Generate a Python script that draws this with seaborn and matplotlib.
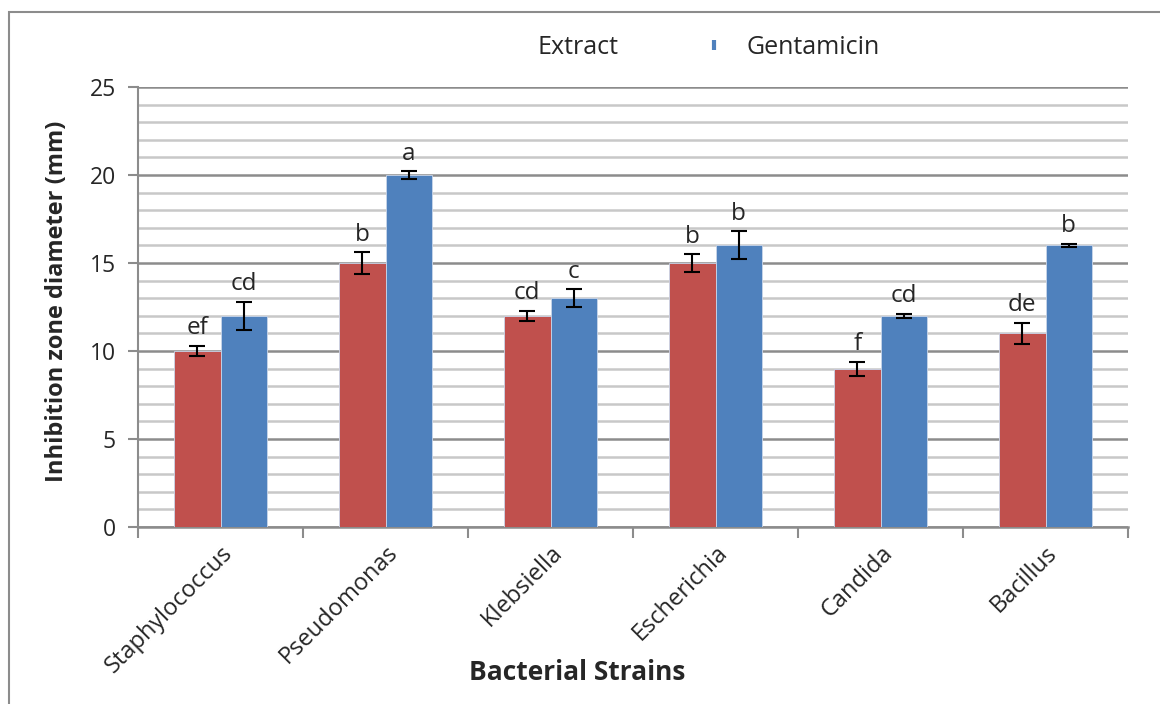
import matplotlib
matplotlib.use("Agg")
import matplotlib.pyplot as plt
from matplotlib.lines import Line2D
from matplotlib.patches import Rectangle
import numpy as np
import pandas as pd
import seaborn as sns

strains = ["Staphylococcus", "Pseudomonas", "Klebsiella", "Escherichia", "Candida", "Bacillus"]
extract = [10, 15, 12, 15, 9, 11]
extract_err = [0.3, 0.6, 0.3, 0.5, 0.4, 0.6]
extract_letters = ["ef", "b", "cd", "b", "f", "de"]
gentamicin = [12, 20, 13, 16, 12, 16]
gentamicin_err = [0.8, 0.2, 0.5, 0.8, 0.1, 0.1]
gentamicin_letters = ["cd", "a", "c", "b", "cd", "b"]

RED = "#C0504D"
BLUE = "#4F81BD"

sns.set_theme(style="white")
plt.rcParams["font.family"] = ["Open Sans", "DejaVu Sans"]

df = pd.DataFrame({
    "strain": strains * 2,
    "value": extract + gentamicin,
    "treatment": ["Extract"] * len(strains) + ["Gentamicin"] * len(strains),
})

fig = plt.figure(figsize=(11.6, 7.04), dpi=100)
ax = fig.add_axes([138 / 1160, 1 - 527 / 704, (1128 - 138) / 1160, (527 - 87) / 704])

sns.barplot(
    data=df, x="strain", y="value", hue="treatment",
    palette={"Extract": RED, "Gentamicin": BLUE}, saturation=1,
    width=0.5625, gap=0, errorbar=None, ax=ax, legend=False,
    edgecolor="#c9d6ea", linewidth=0.6, zorder=3,
)

# error bars and letters from the drawn bars
errs = extract_err + gentamicin_err
letters = extract_letters + gentamicin_letters
for p, e, lab in zip(ax.patches, errs, letters):
    cx = p.get_x() + p.get_width() / 2
    h = p.get_height()
    ax.errorbar(cx, h, yerr=e, fmt="none", ecolor="black", elinewidth=1.5,
                capsize=5.5, capthick=1.5, zorder=4)
    ax.annotate(lab, (cx, h + e), xytext=(0, 4), textcoords="offset points",
                ha="center", va="bottom", fontsize=17.5)

ax.set_ylim(0, 25)
ax.set_xlim(-0.5, len(strains) - 0.5)
ax.set_yticks(np.arange(0, 26, 5))
ax.set_yticks(np.arange(0, 26, 1), minor=True)
ax.yaxis.grid(True, which="minor", color="#c8c8c8", linewidth=1.8, zorder=0)
ax.yaxis.grid(True, which="major", color="#8c8c8c", linewidth=1.8, zorder=0)
ax.set_axisbelow(True)

for s in ["top", "right"]:
    ax.spines[s].set_visible(False)
ax.spines["left"].set_color("#8c8c8c")
ax.spines["left"].set_linewidth(1.5)
ax.spines["bottom"].set_color("#8c8c8c")
ax.spines["bottom"].set_linewidth(1.8)

ax.tick_params(axis="y", which="major", left=True, length=7, width=1.5,
               color="#8c8c8c", labelsize=16.5, pad=9)
ax.tick_params(axis="y", which="minor", left=False)

# x ticks at category boundaries, labels at centres
ax.set_xticks(np.arange(len(strains)))
ax.set_xticklabels(strains, rotation=45, ha="right", rotation_mode="anchor", fontsize=17)
ax.tick_params(axis="x", which="major", bottom=False, pad=4)
ax.set_xticks(np.arange(-0.5, len(strains)), minor=True)
ax.tick_params(axis="x", which="minor", bottom=True, length=8, width=1.5, color="#8c8c8c")

ax.set_xlabel("")
ax.set_ylabel("")
fig.text(577 / 1160, 1 - 673 / 704, "Bacterial Strains", ha="center", va="center",
         fontsize=19, fontweight="bold")
fig.text(57 / 1160, 1 - 301 / 704, "Inhibition zone diameter (mm)", ha="center",
         va="center", rotation=90, fontsize=17, fontweight="bold")

handles = [
    Line2D([], [], linestyle="none", marker="", color=RED),
    Line2D([], [], linestyle="none", marker="|", markersize=7, markeredgewidth=3, color=BLUE),
]
fig.legend(handles, ["Extract", "Gentamicin"], loc="center", ncol=2, frameon=False,
           bbox_to_anchor=(686 / 1160, 1 - 47 / 704), fontsize=18,
           handlelength=1.0, handletextpad=0.8, columnspacing=3.3)

fig.add_artist(Rectangle((9 / 1160, -0.05), 2, 1.05 - 12 / 704, transform=fig.transFigure,
                         fill=False, edgecolor="#8c8c8c", linewidth=1.5))

fig.savefig("out.png", dpi=100)
